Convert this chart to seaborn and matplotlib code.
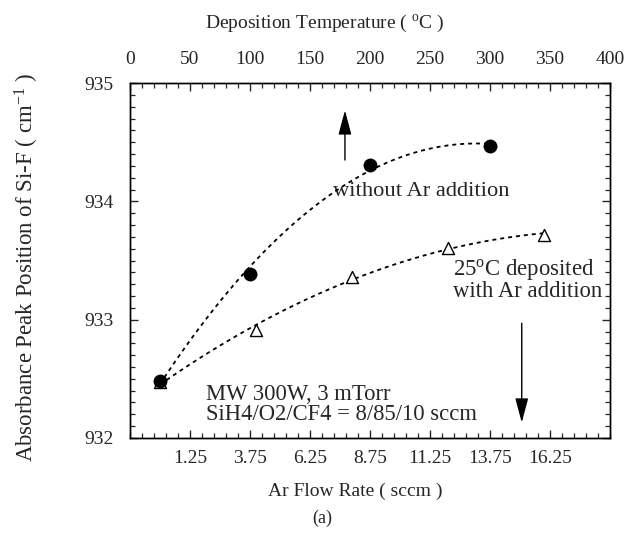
import numpy as np
import pandas as pd
import matplotlib
matplotlib.use("Agg")
import matplotlib.pyplot as plt
import seaborn as sns

# ---- data ----
temp_c = [25, 100, 200, 300]
peak_no_ar = [932.48, 933.39, 934.31, 934.47]
ar_flow = [0, 4, 8, 12, 16]
peak_with_ar = [932.47, 932.91, 933.36, 933.61, 933.72]

bottom_ticks = [1.25, 3.75, 6.25, 8.75, 11.25, 13.75, 16.25]
bottom_labels = ["1.25", "3.75", "6.25", "8.75", "11.25", "13.75", "16.25"]
top_ticks = [0, 50, 100, 150, 200, 250, 300, 350, 400]
y_ticks = [932, 933, 934, 935]

sns.set_style("ticks")
plt.rcParams["font.family"] = ["Liberation Serif", "DejaVu Serif"]
plt.rcParams["mathtext.fontset"] = "custom"
plt.rcParams["mathtext.rm"] = "Liberation Serif"
plt.rcParams["mathtext.it"] = "Liberation Serif:italic"

df_ar = pd.DataFrame({"flow": ar_flow, "peak": peak_with_ar})
df_t = pd.DataFrame({"temp": temp_c, "peak": peak_no_ar})

fig = plt.figure(figsize=(6.28, 5.40), dpi=100)
ax = fig.add_axes([0.207, 0.189, 0.764, 0.657])
ax_top = ax.twiny()

dot = (0, (2.2, 2.2))
sns.regplot(data=df_ar, x="flow", y="peak", order=2, ci=None, scatter=False,
            ax=ax, truncate=True,
            line_kws=dict(color="black", lw=1.3, linestyle=dot))
sns.scatterplot(data=df_ar, x="flow", y="peak", ax=ax, marker="^", s=75,
                facecolor="white", edgecolor="black", linewidth=1.0, zorder=3)

sns.regplot(data=df_t, x="temp", y="peak", order=2, ci=None, scatter=False,
            ax=ax_top, truncate=True,
            line_kws=dict(color="black", lw=1.3, linestyle=dot))
sns.scatterplot(data=df_t, x="temp", y="peak", ax=ax_top, marker="o", s=100,
                color="black", edgecolor="black", linewidth=0, zorder=3)

ax.set_xlim(-1.25, 18.75)
ax_top.set_xlim(0, 400)
ax.set_ylim(932, 935)

ax.set_xticks(bottom_ticks)
ax.set_xticklabels(bottom_labels)
ax.set_xticks(np.arange(-1.25, 18.76, 0.5), minor=True)
ax_top.set_xticks(top_ticks)
ax_top.set_xticks(np.arange(0, 401, 10), minor=True)
ax.set_yticks(y_ticks)
ax.set_yticks(np.arange(932, 935.01, 0.1), minor=True)

for a in (ax, ax_top):
    for s in a.spines.values():
        s.set_visible(True)
        s.set_linewidth(1.0)
        s.set_color("black")

ax.tick_params(axis="x", which="both", direction="in", bottom=True, top=False,
               labelsize=14, pad=9)
ax.tick_params(axis="y", which="both", direction="in", left=True, right=True,
               labelsize=14, pad=12)
ax.tick_params(which="major", length=6, width=1)
ax.tick_params(which="minor", length=3.5, width=0.9)
ax_top.tick_params(axis="x", which="both", direction="in", top=True, bottom=False,
                   labelsize=14, pad=11)
ax_top.tick_params(which="major", length=6, width=1)
ax_top.tick_params(which="minor", length=3.5, width=0.9)

ax.set_xlabel("Ar Flow Rate ( sccm )", fontsize=14)
ax.xaxis.set_label_coords(0.47, -0.125)
ax_top.set_xlabel("Deposition Temperature ( $^{\\mathrm{o}}$C )", fontsize=14)
ax_top.xaxis.set_label_coords(0.405, 1.155)
ax.set_ylabel("Absorbance Peak Position of Si-F ( cm$^{\\mathrm{-1}}$ )", fontsize=16.5)
ax.yaxis.set_label_coords(-0.185, 0.48)
ax_top.set_ylabel("")

# annotations
ax.text(7.2, 934.08, "without Ar addition", fontsize=16.2, ha="left", va="center")
ax.text(12.2, 933.34, "25$^{\\mathrm{o}}$C deposited\nwith Ar addition", fontsize=16.4,
        ha="left", va="center", linespacing=0.95)
ax.text(1.9, 932.28, "MW 300W, 3 mTorr\nSiH4/O2/CF4 = 8/85/10 sccm", fontsize=16.3,
        ha="left", va="center", linespacing=0.95)

arrow = dict(arrowstyle="-|>,head_length=0.75,head_width=0.2", color="black", lw=1.0,
             shrinkA=0, shrinkB=0, mutation_scale=20)
ax.annotate("", xy=(7.71, 934.77), xytext=(7.71, 934.35), arrowprops=arrow)
ax.annotate("", xy=(15.08, 932.13), xytext=(15.08, 932.97), arrowprops=arrow)

fig.text(0.513, 0.04, "(a)", fontsize=13, ha="center", va="center")

fig.savefig("out.png", dpi=100)
